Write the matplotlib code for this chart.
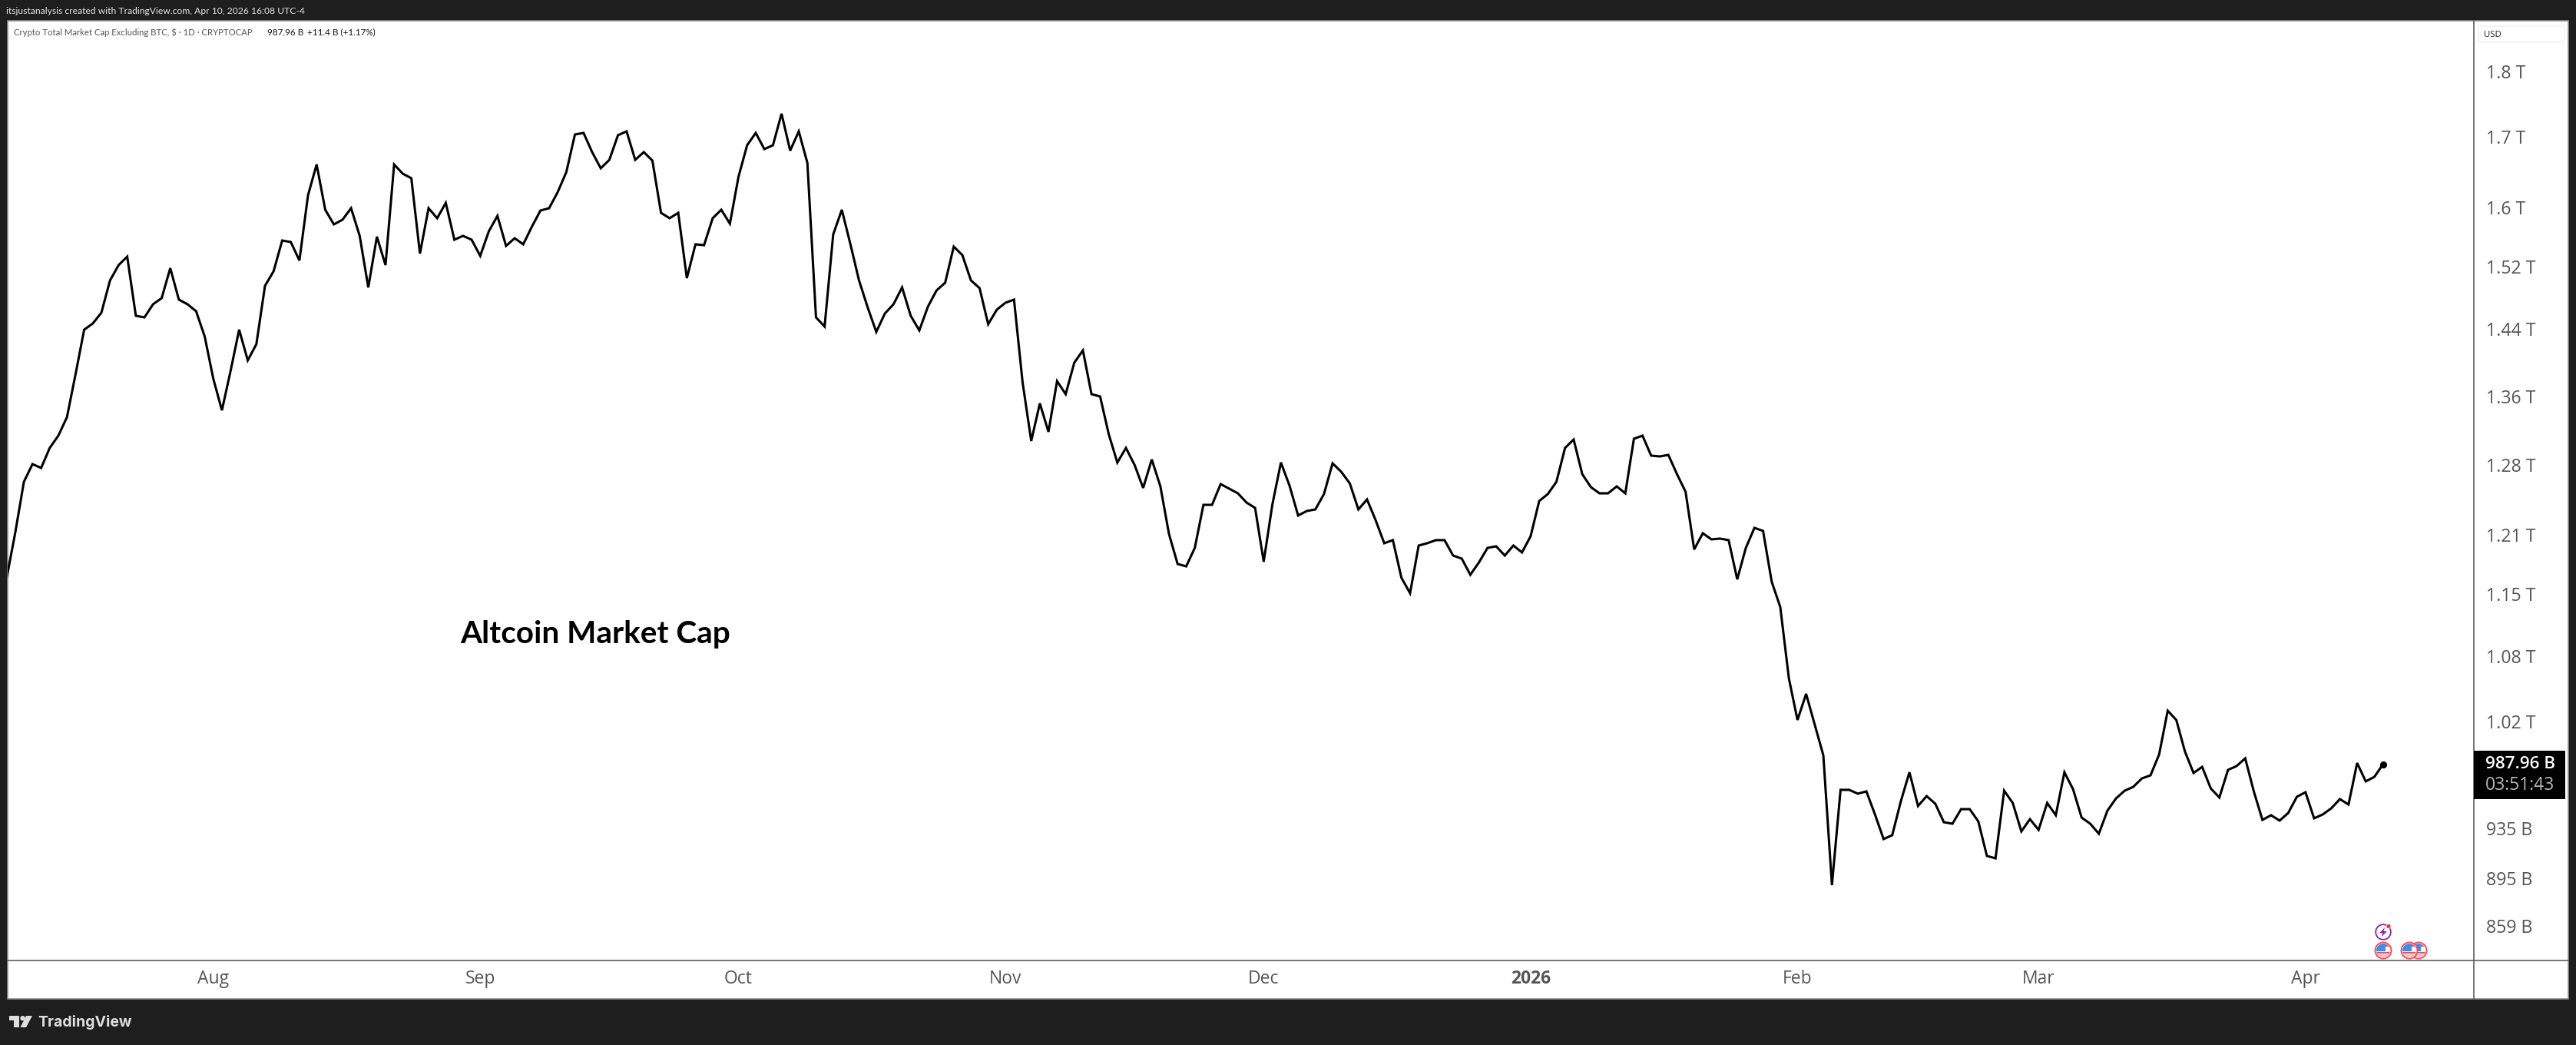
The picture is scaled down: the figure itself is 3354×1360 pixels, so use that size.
import numpy as np
import pandas as pd
import matplotlib
matplotlib.use('Agg')
import matplotlib.pyplot as plt
import matplotlib.dates as mdates
from matplotlib.patches import Rectangle, Circle, Polygon, FancyBboxPatch
from matplotlib.ticker import NullLocator

# ---- data (USD billions, daily close) ----
first_day = '2025-07-08'
market_cap_b = [
 1161.0,1207.5,1261.6,1281.1,1276.8,1299.1,1313.0,1334.1,1384.7,1439.1,1446.8,1460.4,1501.7,1521.8,1533.0,1456.5,
 1454.5,1471.1,1478.9,1517.8,1477.0,1471.1,1462.3,1430.6,1379.2,1342.1,1388.4,1439.1,1401.4,1421.1,1494.7,1513.7,
 1554.5,1552.5,1527.9,1616.7,1660.3,1596.4,1576.4,1582.7,1598.6,1560.8,1492.7,1559.7,1521.8,1660.3,1647.1,1640.6,
 1537.1,1598.6,1584.8,1606.0,1555.6,1560.8,1555.6,1534.0,1567.0,1588.0,1547.3,1557.6,1549.4,1573.3,1595.4,1598.6,
 1621.0,1649.3,1703.9,1706.2,1678.1,1654.8,1666.9,1702.8,1708.5,1666.9,1678.1,1665.8,1592.2,1584.8,1592.2,1504.7,
 1549.4,1548.3,1584.8,1596.4,1577.4,1642.7,1688.1,1706.2,1682.5,1688.1,1734.8,1680.3,1708.5,1662.5,1454.5,1443.0,
 1562.8,1596.4,1549.4,1501.7,1467.2,1436.3,1459.4,1471.1,1492.7,1456.5,1438.2,1468.1,1488.8,1498.7,1546.3,1535.0,
 1501.7,1491.8,1445.9,1464.2,1473.0,1477.0,1374.6,1306.9,1350.2,1317.3,1376.4,1361.0,1398.6,1413.5,1361.0,1358.3,
 1314.7,1282.8,1299.1,1280.2,1254.9,1286.2,1256.6,1205.9,1175.0,1172.6,1191.5,1236.7,1236.7,1259.1,1254.1,1249.1,
 1239.2,1233.4,1177.3,1236.7,1282.8,1257.4,1225.3,1230.1,1231.8,1248.3,1281.9,1272.6,1259.9,1231.8,1242.5,1220.4,
 1196.3,1199.5,1161.0,1145.7,1193.9,1196.3,1199.5,1199.5,1183.6,1180.5,1164.1,1176.6,1191.5,1193.1,1183.6,1193.9,
 1186.8,1203.5,1240.8,1248.3,1261.6,1299.1,1308.6,1270.0,1255.8,1249.1,1249.1,1256.6,1249.1,1309.5,1313.0,1290.5,
 1289.6,1291.3,1270.0,1250.8,1189.9,1206.7,1200.3,1201.1,1199.5,1159.5,1191.5,1212.3,1209.1,1157.2,1132.0,1064.2,
 1026.6,1050.1,1022.5,995.7,889.9,966.4,966.4,963.2,965.1,946.0,926.1,929.2,956.8,981.2,953.0,961.2,
 954.9,939.7,938.5,950.4,950.4,940.4,912.7,910.8,965.7,955.5,932.3,942.2,933.5,955.5,945.4,981.2,
 967.0,943.5,938.5,930.4,949.2,959.3,965.7,968.9,976.0,978.6,996.4,1034.9,1026.6,999.0,980.6,985.8,
 967.6,960.0,983.2,986.5,993.1,965.1,941.6,945.4,941.0,947.3,960.6,964.4,942.9,946.0,951.1,958.7,
 954.2,989.1,973.5,977.3,987.96,
]
ytick_values = [1800,1700,1600,1520,1440,1358,1280,1205,1145,1085,1025,935,895,859]
ytick_labels = ['1.8 T','1.7 T','1.6 T','1.52 T','1.44 T','1.36 T','1.28 T','1.21 T','1.15 T','1.08 T','1.02 T','935 B','895 B','859 B']
xtick_dates = ['2025-08-01','2025-09-01','2025-10-01','2025-11-01','2025-12-01','2026-01-01','2026-02-01','2026-03-01','2026-04-01']
xtick_labels = ['Aug','Sep','Oct','Nov','Dec','2026','Feb','Mar','Apr']
header_text = 'itsjustanalysis created with TradingView.com, Apr 10, 2026 16:08 UTC-4'
legend_name = 'Crypto Total Market Cap Excluding BTC, $ · 1D · CRYPTOCAP'
legend_last = '987.96 B'
legend_change = '+11.4 B (+1.17%)'
note_text = 'Altcoin Market Cap'
last_label = '987.96 B'
countdown = '03:51:43'

# ---- layout (pixels of a 3355x1360 canvas) ----
W, H = 3355, 1360
DARK = '#1e1e1e'
GREY = '#555555'
SANS = 'Open Sans'
HEAD = 'Lato'
plot_l, plot_r, plot_t, plot_b = 10, 3221, 27, 1250
frame_r, frame_b = 3344.5, 1299.5
px_per_day = 11.21
first_px = 8.7
y_ref_px, y_ref_val, px_per_ln = 92.5, 1800.0, 1504.0

fig = plt.figure(figsize=(W/100, H/100), dpi=100, facecolor=DARK)

# pixel-space layer for the frame and decorations
bg = fig.add_axes([0, 0, 1, 1], zorder=0)
bg.set_xlim(0, W); bg.set_ylim(H, 0); bg.axis('off')
bg.add_patch(Rectangle((plot_l, plot_t), frame_r-plot_l, frame_b-plot_t, fc='white', ec='#8c8c8c', lw=1.2))
bg.plot([plot_r, plot_r], [plot_t, frame_b], color='#5d5d5d', lw=1.2)
bg.plot([plot_l, frame_r], [plot_b, plot_b], color='#5d5d5d', lw=1.2)

# chart axes
ax = fig.add_axes([plot_l/W, 1-plot_b/H, (plot_r-plot_l)/W, (plot_b-plot_t)/H], zorder=1)
ax.patch.set_alpha(0)
dates = pd.date_range(first_day, periods=len(market_cap_b), freq='D')
ax.plot(dates, market_cap_b, color='black', lw=2.2, solid_joinstyle='miter', solid_capstyle='butt')
ax.plot(dates[-1:], market_cap_b[-1:], 'o', color='black', ms=6.6, mew=0)

ax.set_yscale('log')
val = lambda p: y_ref_val*np.exp(-(p-y_ref_px)/px_per_ln)
ax.set_ylim(val(plot_b), val(plot_t))
d0 = mdates.date2num(dates[0])
ax.set_xlim(d0+(plot_l-first_px)/px_per_day, d0+(plot_r-first_px)/px_per_day)

ax.yaxis.tick_right()
ax.yaxis.set_minor_locator(NullLocator())
ax.set_yticks(ytick_values)
ax.set_yticklabels(ytick_labels, fontfamily=SANS, fontsize=16.7, color=GREY)
ax.tick_params(axis='y', length=0, pad=11.5, which='both')
ax.set_xticks(pd.to_datetime(xtick_dates))
ax.set_xticklabels(xtick_labels, fontfamily=SANS, fontsize=16.5, color=GREY)
ax.tick_params(axis='x', length=0, pad=8.8)
for t in ax.get_xticklabels():
    if t.get_text() == '2026':
        t.set_fontweight('bold')
for s in ax.spines.values():
    s.set_visible(False)

ax.text(599, 837, note_text, transform=bg.transData, fontfamily=HEAD, fontweight='bold',
        fontsize=29.2, color='black', va='baseline', ha='left')

# header / legend
bg.text(8, 15, header_text, fontfamily=HEAD, fontsize=8.7, color='#e4e4e4', va='center', ha='left')
bg.text(18, 42, legend_name, fontfamily=HEAD, fontsize=8.2, color='#555555', va='center', ha='left')
bg.text(348, 42, legend_last, fontfamily=HEAD, fontsize=8.4, color='#111111', va='center', ha='left')
bg.text(400, 42, legend_change, fontfamily=HEAD, fontsize=8.4, color='#111111', va='center', ha='left')

# USD box
bg.add_patch(FancyBboxPatch((3227, 34), 112, 21, boxstyle='round,pad=0,rounding_size=3', fc='white', ec='#f0f0f0', lw=1))
bg.text(3234, 45, 'USD', fontfamily=SANS, fontsize=8.2, color='#222222', va='center', ha='left')

# last price flag
bg.add_patch(Rectangle((plot_r, 977), 119, 63, fc='black', ec='none', zorder=5))
bg.text(3236, 994, last_label, fontfamily=SANS, fontweight='semibold', fontsize=16.2, color='white', va='center', ha='left', zorder=6)
bg.text(3236, 1022, countdown, fontfamily=SANS, fontsize=16.5, color='#b8b8b8', va='center', ha='left', zorder=6)

# event icons
def flag(cx, cy, r=10.5, z=3):
    edge = Circle((cx, cy), r, fc='white', ec='#ef4f5f', lw=1.4, zorder=z)
    bg.add_patch(edge)
    clip = Circle((cx, cy), r-1.5, transform=bg.transData)
    for ys, c in [(cy-1, '#f4f4f4'), (cy+1.5, '#e25563'), (cy+5, '#f4b8bd')]:
        p = Rectangle((cx-r, ys), 2*r, 2.6, fc=c, ec='none', zorder=z+.1)
        bg.add_patch(p); p.set_clip_path(clip)
    p = Rectangle((cx-r, cy-r), r+3, r+0.5, fc='#3f8fe8', ec='none', zorder=z+.2)
    bg.add_patch(p); p.set_clip_path(clip)
    p = Rectangle((cx+3, cy-r+2), r, 3, fc='#e25563', ec='none', zorder=z+.1)
    bg.add_patch(p); p.set_clip_path(clip)

flag(3149, 1237, z=3)
flag(3137, 1237, z=4)
flag(3103, 1237, z=3)
bg.add_patch(Circle((3103, 1213), 9.8, fc='white', ec='#8e24aa', lw=1.3, zorder=3))
bg.add_patch(Polygon([(3105, 1207), (3098, 1214.5), (3102.5, 1214.5), (3100.5, 1219.5), (3108, 1212), (3103.5, 1212)],
                     closed=True, fc='#8e24aa', ec='none', zorder=4))
bg.add_patch(Circle((3110, 1205.5), 3, fc='#f23645', ec='white', lw=0.5, zorder=5))

# TradingView mark
LOGO = '#dedede'
bg.add_patch(Polygon([(12, 1322), (25, 1322), (25, 1337), (18, 1337), (18, 1328), (12, 1328)], closed=True, fc=LOGO, ec='none'))
bg.add_patch(Circle((29.5, 1325.2), 3.2, fc=LOGO, ec='none'))
bg.add_patch(Polygon([(34, 1322), (42, 1322), (34, 1337), (26.5, 1337)], closed=True, fc=LOGO, ec='none'))
bg.text(49, 1330, 'TradingView', fontfamily='Inter', fontweight='bold', fontsize=14, color=LOGO, va='center', ha='left')

fig.savefig('out.png', dpi=100, facecolor=DARK)
